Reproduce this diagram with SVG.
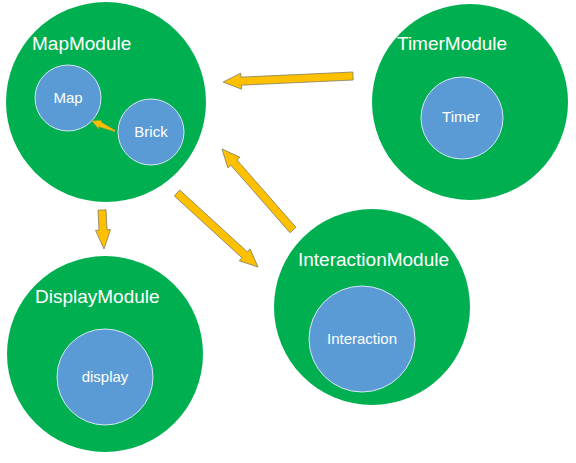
<svg xmlns="http://www.w3.org/2000/svg" width="576" height="463" viewBox="0 0 576 463">
<style>
.outer{fill:#00B050;}
.inner{fill:#5B9BD5;stroke:#D6E6F4;stroke-width:1;}
.title{font-family:"Liberation Sans",Arial,sans-serif;font-size:19px;fill:#ffffff;}
.label{font-family:"Liberation Sans",Arial,sans-serif;font-size:15px;fill:#ffffff;text-anchor:middle;}
.arrow{fill:#FFC000;stroke:#857F5E;stroke-width:0.8;stroke-linejoin:miter;}
.small{fill:#FFC000;stroke:#C9A020;stroke-width:0.5;}
</style>
<rect width="576" height="463" fill="#ffffff"/>
<g id="MapModule">
<circle class="outer" cx="106" cy="102" r="100"/>
<text class="title" x="32" y="50">MapModule</text>
</g>
<g id="Map">
<circle class="inner" cx="68" cy="98" r="33"/>
<text class="label" x="68" y="103">Map</text>
</g>
<g id="Brick">
<circle class="inner" cx="151" cy="132" r="33"/>
<text class="label" x="151" y="137">Brick</text>
</g>
<g id="TimerModule">
<circle class="outer" cx="470" cy="102" r="98"/>
<text class="title" x="397" y="50">TimerModule</text>
</g>
<g id="Timer">
<circle class="inner" cx="462" cy="118" r="41"/>
<text class="label" x="461" y="122">Timer</text>
</g>
<g id="DisplayModule">
<circle class="outer" cx="105" cy="354" r="98"/>
<text class="title" x="35" y="303">DisplayModule</text>
</g>
<g id="display">
<circle class="inner" cx="105" cy="377" r="48"/>
<text class="label" x="105" y="382">display</text>
</g>
<g id="InteractionModule">
<circle class="outer" cx="372" cy="307" r="98"/>
<text class="title" x="298" y="266">InteractionModule</text>
</g>
<g id="Interaction">
<circle class="inner" cx="362" cy="339" r="53"/>
<text class="label" x="362" y="344">Interaction</text>
</g>
<g id="connectors">
<path class="arrow" transform="translate(353,76) rotate(177.36)" d="M0,-4 L112,-4 L112,-8 L130,0 L112,8 L112,4 L0,4 Z"/>
<path class="arrow" transform="translate(293,230) rotate(-131.24)" d="M0,-4 L89.7,-4 L89.7,-8 L107.7,0 L89.7,8 L89.7,4 L0,4 Z"/>
<path class="arrow" transform="translate(177,193) rotate(42.42)" d="M0,-4 L91.7,-4 L91.7,-8 L109.7,0 L91.7,8 L91.7,4 L0,4 Z"/>
<path class="arrow" transform="translate(102,210) rotate(87.06)" d="M0,-4 L20,-4 L20,-7.5 L39,0 L20,7.5 L20,4 L0,4 Z"/>
<path class="small" transform="translate(115,131) rotate(-156.5)" d="M0,-0.5 L17,-2.5 L16,-4.5 L25,0 L17,4 L16,2.5 L0,0.5 Z"/>
</g>
</svg>
